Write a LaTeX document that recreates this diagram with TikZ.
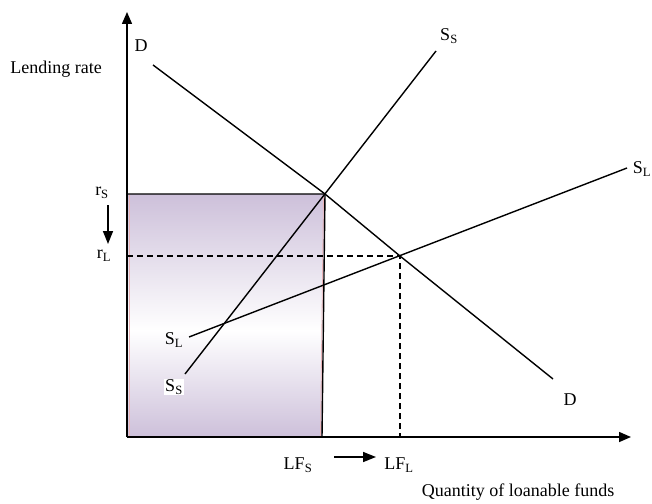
\documentclass[tikz,border=0pt]{standalone}
\usepackage{fontspec}
\setmainfont{Liberation Serif}
\usetikzlibrary{arrows.meta}
\begin{document}
\begin{tikzpicture}[x=1pt,y=-1pt,
  lbl/.style={font=\fontsize{18}{20}\selectfont, inner sep=1pt},
  curve/.style={line width=1.4pt},
  axis/.style={line width=1.5pt, -{Triangle[length=12pt,width=10pt]}},
  guide/.style={line width=1.2pt, dash pattern=on 6pt off 4pt},
  movearrow/.style={line width=1.5pt, -{Triangle[length=13pt,width=10pt]}}]
\useasboundingbox (0,0) rectangle (652,503);
% shaded rectangle
\shade[top color={rgb,255:red,205;green,192;blue,218}, bottom color=white]
  (128,194) -- (325,194) -- (323.4,331) -- (128,331) -- cycle;
\shade[top color=white, bottom color={rgb,255:red,205;green,192;blue,218}]
  (128,330) -- (323.4,330) -- (322,437) -- (128,437) -- cycle;
\draw[line width=0.8pt, color={rgb,255:red,235;green,180;blue,185}] (129.5,195) -- (129.5,436);
\draw[line width=0.8pt, color={rgb,255:red,235;green,180;blue,185}] (323.5,195) -- (320.5,436);
\coordinate (rtop) at (325,194);
\coordinate (rbot) at (322,437);
\coordinate (ltop) at (127,194);
\draw[line width=1.4pt] (ltop) -- (rtop) -- (rbot);
% axes
\coordinate (O) at (127,437);
\coordinate (ytip) at (127,12);
\coordinate (xtip) at (631,437);
\draw[axis] (O) -- (ytip);
\draw[axis] (O) -- (xtip);
% dashed guides
\coordinate (eL) at (400,256);
\coordinate (yL) at (127,256);
\coordinate (xL) at (400,437);
\draw[guide] (yL) -- (eL) -- (xL);
% curves
\coordinate (D1) at (153,65);
\coordinate (D2) at (553,379);
\draw[curve] (D1) -- (rtop) -- (eL) -- (D2);
\coordinate (SS1) at (185,374);
\coordinate (SS2) at (436,51);
\draw[curve] (SS1) -- (SS2);
\coordinate (SL1) at (189,337);
\coordinate (SL2) at (627,168);
\draw[curve] (SL1) -- (SL2);
% labels
\node[lbl] (Dtop) at (141,46) {D};
\node[lbl] (Dbot) at (570,400) {D};
\node[lbl] (SStop) at (449,36) {S\textsubscript{S}};
\node[lbl, fill=white] (SSbot) at (174,387) {S\textsubscript{S}};
\node[lbl] (SLtop) at (642,169) {S\textsubscript{L}};
\node[lbl] (SLbot) at (174,340) {S\textsubscript{L}};
\node[lbl] (ylab) at (56,69) {Lending rate};
\node[lbl] (xlab) at (518,492) {Quantity of loanable funds};
\node[lbl] (rS) at (102,193) {r\textsubscript{S}};
\node[lbl] (rL) at (104,256) {r\textsubscript{L}};
\node[lbl] (LFS) at (298,465) {LF\textsubscript{S}};
\node[lbl] (LFL) at (399,465) {LF\textsubscript{L}};
\coordinate (a1s) at (108,205);
\coordinate (a1e) at (108,244);
\coordinate (a2s) at (334,457);
\coordinate (a2e) at (376,457);
\draw[movearrow] (a1s) -- (a1e);
\draw[movearrow] (a2s) -- (a2e);
\end{tikzpicture}
\end{document}
